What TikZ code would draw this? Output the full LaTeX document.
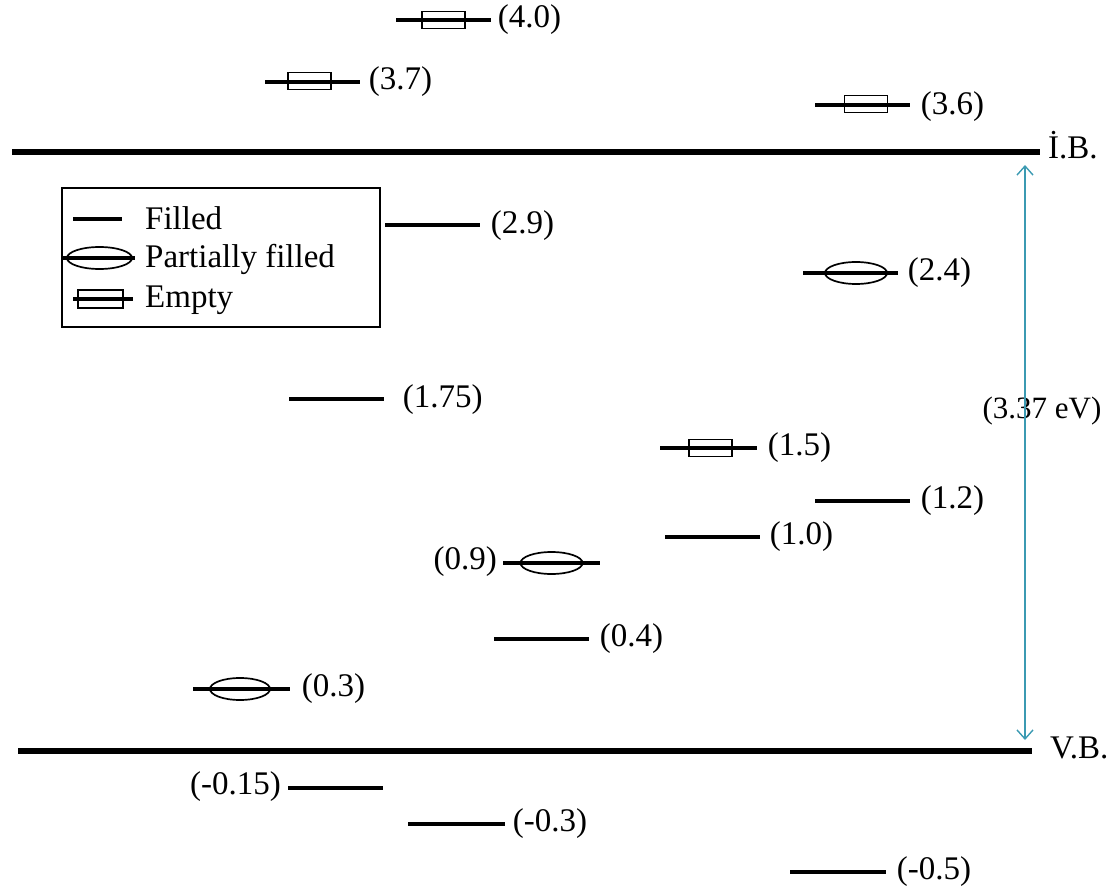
\documentclass[tikz,border=0pt]{standalone}
\usepackage{fontspec}
\setmainfont{Liberation Serif}
\usetikzlibrary{arrows.meta}
\usetikzlibrary{shapes.geometric}

\definecolor{gapblue}{HTML}{3B9AB2}

\tikzset{
  level/.style={line width=3.8pt},
  band/.style={line width=6pt},
  emptybox/.style={draw,line width=1.7pt,minimum width=43pt,minimum height=17pt,inner sep=0pt},
  halfbox/.style={draw,ellipse,line width=1.7pt,minimum width=62pt,minimum height=22pt,inner sep=0pt},
  lab/.style={inner sep=0pt,font=\fontsize{33}{38}\selectfont},
}

\begin{document}
\begin{tikzpicture}[x=1pt,y=-1pt,>={Straight Barb[length=9pt,width=16pt]}]
\useasboundingbox (0,0) rectangle (1119,890);

% bands
\draw[band] (12,152) -- (1040,152);
\draw[band] (18,751) -- (1032,751);
\node[lab,anchor=base west] (ib) at (1048,159) {İ.B.};
\node[lab,anchor=base west] (vb) at (1050,758) {V.B.};

% band gap
\node[lab,font=\fontsize{31}{36}\selectfont] (gap) at (1042,411) {(3.37 eV)};
\coordinate (gaptop) at (1025,165);
\coordinate (gapbot) at (1025,740);
\draw[<->,gapblue,line width=1.4pt] (gaptop) -- (gapbot);

% legend
\draw[line width=1.5pt] (62,188) rectangle (380,327);
\draw[level] (73,219) -- (122,219);
\node[lab,anchor=west] (kfill) at (145,218) {Filled};
\draw[level] (62,258) -- (135,258);
\node[halfbox,minimum width=65pt] (kpart) at (99.5,258) {};
\node[lab,anchor=west] (kparttxt) at (145,259) {Partially filled};
\draw[level] (73,299) -- (133,299);
\node[emptybox,minimum width=45pt,minimum height=18pt] (kempty) at (100.5,299) {};
\node[lab,anchor=west] (kemptytxt) at (145,300) {Empty};

% levels above the band
\draw[level] (396,20) -- (491,20) node[lab,right=5pt] (t40) {(4.0)};
\node[emptybox] (e40) at (443.5,20) {};
\draw[level] (265,82) -- (360,82) node[lab,right=7pt] (t37) {(3.7)};
\node[emptybox] (e37) at (309.5,81) {};
\draw[level] (815,105) -- (910,105) node[lab,right=9pt,yshift=-2pt] (t36) {(3.6)};
\node[emptybox] (e36) at (866,104) {};

% levels in the gap
\draw[level] (385,225) -- (480,225) node[lab,right=9pt,yshift=-1pt] (t29) {(2.9)};
\draw[level] (803,273) -- (898,273) node[lab,right=8pt] (t24) {(2.4)};
\node[halfbox] (p24) at (856,273) {};
\draw[level] (289,399) -- (384,399) node[lab,right=17pt,yshift=-1pt] (t175) {(1.75)};
\draw[level] (660,448) -- (757,448) node[lab,right=9pt] (t15) {(1.5)};
\node[emptybox] (e15) at (710.5,448) {};
\draw[level] (815,501) -- (910,501) node[lab,right=9pt] (t12) {(1.2)};
\draw[level] (665,537) -- (760,537) node[lab,right=8pt] (t10) {(1.0)};
\node[lab,anchor=east] (t09) at (497,562) {(0.9)};
\draw[level] (503,563) -- (600,563);
\node[halfbox] (p09) at (551.5,563) {};
\draw[level] (494,639) -- (589,639) node[lab,right=9pt] (t04) {(0.4)};
\draw[level] (193,689) -- (290,689) node[lab,right=10pt] (t03) {(0.3)};
\node[halfbox,minimum width=60pt] (p03) at (240,689) {};

% levels below the band
\node[lab,anchor=east] (tm015) at (281,787) {(-0.15)};
\draw[level] (288,788) -- (383,788);
\draw[level] (408,824) -- (505,824) node[lab,right=6pt] (tm03) {(-0.3)};
\draw[level] (790,872) -- (886,872) node[lab,right=9pt] (tm05) {(-0.5)};

\end{tikzpicture}
\end{document}
